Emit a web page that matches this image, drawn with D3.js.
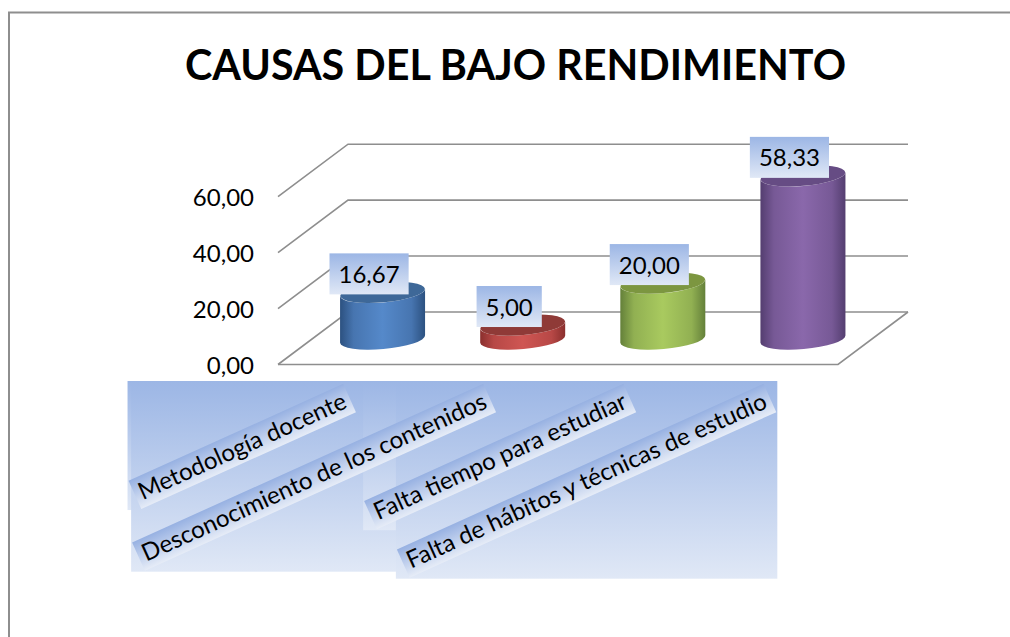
<!DOCTYPE html>
<html><head><meta charset="utf-8">
<script src="https://cdn.jsdelivr.net/npm/d3@7"></script>
<style>html,body{margin:0;padding:0;background:#fff;overflow:hidden}svg{display:block}text{font-family:Lato,sans-serif;fill:#000}</style>
</head><body><svg id="c" width="1010" height="637"></svg>
<script>
const chartTitle = "CAUSAS DEL BAJO RENDIMIENTO";
const categories = ["Metodología docente","Desconocimiento de los contenidos","Falta tiempo para estudiar","Falta de hábitos y técnicas de estudio"];
const values = [16.67, 5.00, 20.00, 58.33];
const ticks = [0, 20, 40, 60];
const edgeColors = ["#2c5180","#8a2f2d","#64803a","#543e70"];
const midColors = ["#5589ca","#cf5653","#a9ca5f","#8a68ab"];
const topColors = ["#3e6898","#8f3a37","#7c9640","#664c84"];

const W = 1010, H = 637;
const svg = d3.select("#c");
const defs = svg.append("defs");
const fmt = v => d3.format(".2f")(v).replace(".", ",");

// layout
const y = d3.scaleLinear().domain([0, 60]).range([364.5, 196.7]);
const frontLeft = 278, frontRight = 838, depthX = 70, depthY = 52.5;
const x = d3.scaleBand().domain(categories).range([312.5, 873]);
const rx = 42.5, ry = 10, tilt = 5, tiltDy = rx * Math.sin(tilt * Math.PI / 180);
const baseY = 339;
const gridColor = "#8e8e8e";
const fontSize = 24, catFontSize = 24.1;

const fade = (id, a, b) => {
  const g = defs.append("linearGradient").attr("id", id).attr("x1", 0).attr("y1", 0).attr("x2", 0).attr("y2", 1);
  g.append("stop").attr("offset", 0).attr("stop-color", a);
  g.append("stop").attr("offset", 1).attr("stop-color", b);
};
fade("boxFill", "#9cb6e5", "#e0e8f6");
fade("stripFill", "#97b1e2", "#e6ecf7");

// frame
svg.append("path").attr("d", `M9,${H}V12.5H${W}`).attr("fill", "none").attr("stroke", gridColor).attr("stroke-width", 2);

// title
svg.append("text").attr("x", 515.5).attr("y", 80).attr("text-anchor", "middle")
  .attr("font-size", 41.3).attr("font-weight", 700).text(chartTitle);

// grid
const grid = svg.append("g").attr("fill", "none").attr("stroke", gridColor).attr("stroke-width", 1.6);
grid.selectAll("path.g").data(ticks).join("path").attr("class", "g")
  .attr("d", t => `M${frontLeft},${y(t)}L${frontLeft + depthX},${y(t) - depthY}H${frontRight + depthX}`);
grid.append("path").attr("d", `M${frontLeft},${y(0)}H${frontRight}L${frontRight + depthX},${y(0) - depthY}`);

// y axis labels
const axis = d3.axisLeft(y).tickValues(ticks).tickFormat(fmt).tickSize(0).tickPadding(0);
const ax = svg.append("g").attr("transform", "translate(254,1)").call(axis);
ax.select(".domain").remove();
ax.selectAll("text").attr("font-size", fontSize).style("font-family", "Lato,sans-serif").attr("fill", "#000");

// cylinders
categories.forEach((c, i) => {
  const g = defs.append("linearGradient").attr("id", "side" + i);
  [[0, edgeColors[i]], [.16, d3.interpolateRgb(edgeColors[i], midColors[i])(.65)], [.5, midColors[i]], [.84, d3.interpolateRgb(edgeColors[i], midColors[i])(.65)], [1, edgeColors[i]]]
    .forEach(([o, col]) => g.append("stop").attr("offset", o).attr("stop-color", col));
});
const cyl = svg.append("g").selectAll("g").data(categories).join("g");
const cxOf = c => x(c) + x.bandwidth() / 2;
const hOf = i => y(0) - y(values[i]);
cyl.append("path").attr("fill", (c, i) => `url(#side${i})`)
  .attr("d", (c, i) => {
    const cx = cxOf(c), t = baseY - hOf(i);
    return `M${cx - rx},${t + tiltDy}V${baseY + tiltDy}A${rx},${ry} ${-tilt} 0 0 ${cx + rx},${baseY - tiltDy}V${t - tiltDy}A${rx},${ry} ${-tilt} 0 1 ${cx - rx},${t + tiltDy}Z`;
  });
cyl.append("ellipse").attr("fill", (c, i) => topColors[i])
  .attr("rx", rx).attr("ry", ry)
  .attr("transform", (c, i) => `translate(${cxOf(c)},${baseY - hOf(i)}) rotate(${-tilt})`);

// value labels
const vl = svg.append("g").selectAll("g").data(categories).join("g")
  .attr("transform", (c, i) => `translate(${cxOf(c) - 13.5},${baseY - hOf(i) - 18.5})`);
vl.append("rect").attr("fill", "url(#boxFill)");
vl.append("text").attr("text-anchor", "middle").attr("font-size", fontSize).attr("y", 9).text((c, i) => fmt(values[i]));
vl.each(function () {
  const s = d3.select(this), w = s.select("text").node().getComputedTextLength() + 18;
  s.select("rect").attr("x", -w / 2).attr("y", -20.5).attr("width", w).attr("height", 41);
});

// category labels
const angle = -24.3, rad = angle * Math.PI / 180, stripH = 31, endY = 398;
const cat = svg.append("g");
const bgs = cat.append("g"), strips = cat.append("g");
const lab = strips.selectAll("g").data(categories).join("g")
  .attr("transform", c => `translate(${cxOf(c) - 33},${endY}) rotate(${angle})`);
lab.append("rect").attr("fill", "url(#stripFill)");
lab.append("text").attr("text-anchor", "end").attr("x", -5).attr("y", 8).attr("font-size", catFontSize).text(c => c);
lab.each(function (c) {
  const s = d3.select(this), w = s.select("text").node().getComputedTextLength() + 10;
  s.select("rect").attr("x", -w).attr("y", -stripH / 2).attr("width", w).attr("height", stripH);
  const ex = cxOf(c) - 33;
  const pts = [[0, -stripH / 2], [0, stripH / 2], [-w, -stripH / 2], [-w, stripH / 2]]
    .map(([a, b]) => [ex + a * Math.cos(rad) - b * Math.sin(rad), endY + a * Math.sin(rad) + b * Math.cos(rad)]);
  const x0 = d3.min(pts, p => p[0]) - 1, x1 = d3.max(pts, p => p[0]) + 1, y1 = d3.max(pts, p => p[1]) + 1;
  bgs.append("rect").attr("x", x0).attr("y", 381).attr("width", x1 - x0).attr("height", y1 - 381).attr("fill", "url(#boxFill)");
});
</script></body></html>
